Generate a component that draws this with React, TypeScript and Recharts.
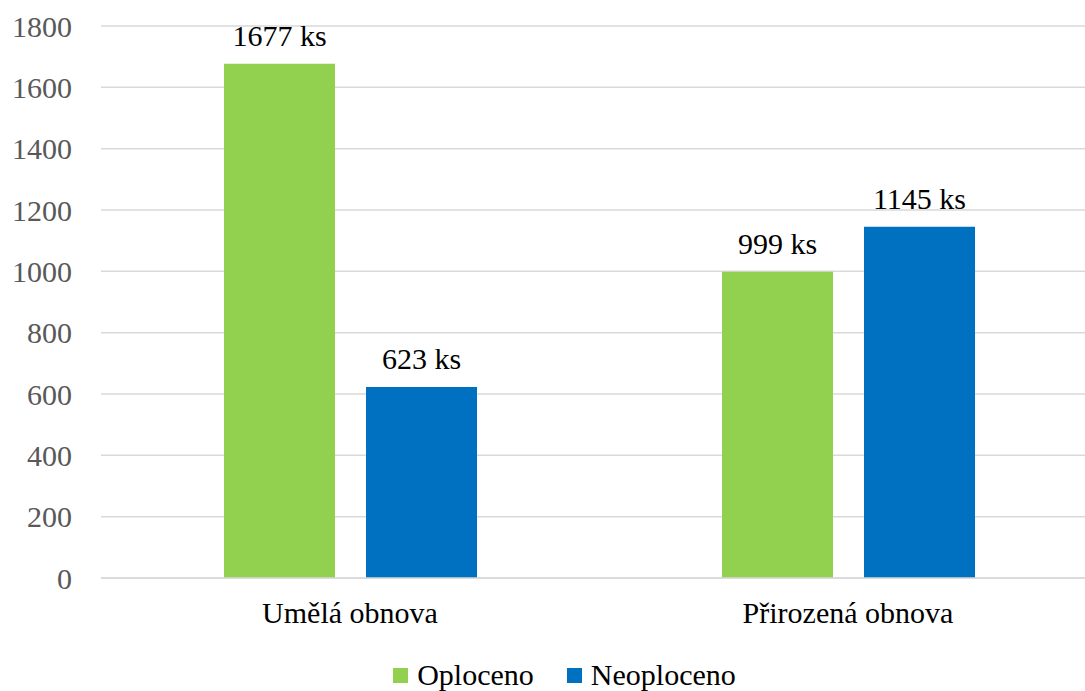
import React from 'react';
import { BarChart, Bar, XAxis, YAxis, CartesianGrid, Legend, LabelList } from 'recharts';

const categories = ['Umělá obnova', 'Přirozená obnova'];
const oploceno = [1677, 999];
const neoploceno = [623, 1145];
const yTicks = [0, 200, 400, 600, 800, 1000, 1200, 1400, 1600, 1800];
const seriesNames = ['Oploceno', 'Neoploceno'];
const seriesColors = ['#92d050', '#0070c0'];

const data = categories.map((c, i) => ({ name: c, a: oploceno[i], b: neoploceno[i] }));

const FONT = "'Liberation Serif', Tinos, 'Noto Serif', 'Times New Roman', Times, FreeSerif, 'Nimbus Roman', 'DejaVu Serif', serif";

const LegendContent = () => (
  <div style={{ display: 'flex', justifyContent: 'center', alignItems: 'center', height: 36, fontFamily: FONT, fontSize: 30, lineHeight: '36px', color: '#000' }}>
    {seriesNames.map((n, i) => (
      <div key={n} style={{ display: 'flex', alignItems: 'center', marginLeft: i === 0 ? 0 : 33 }}>
        <span style={{ display: 'inline-block', width: 15, height: 15, background: seriesColors[i], marginRight: 9 }} />
        <span>{n}</span>
      </div>
    ))}
  </div>
);

export default function App() {
  return (
    <div style={{ position: 'absolute', left: 0, top: 0, width: 1085, height: 691, overflow: 'hidden', background: '#fff', fontFamily: FONT }}>
      <BarChart width={1100} height={691} data={data} margin={{ top: 26, right: 3, left: 0, bottom: 0 }} barGap={31} barSize={111} style={{ fontFamily: FONT }}>
        <CartesianGrid vertical={false} stroke="#d9d9d9" strokeWidth={1.5} />
        <XAxis
          dataKey="name"
          height={77}
          axisLine={{ stroke: '#d9d9d9', strokeWidth: 1.5 }}
          tickLine={false}
          tickSize={0}
          tickMargin={24}
          tick={{ fontFamily: FONT, fontSize: 30, fill: '#000' }}
        />
        <YAxis
          width={101}
          domain={[0, 1800]}
          ticks={yTicks}
          interval={0}
          axisLine={false}
          tickLine={false}
          tickSize={0}
          tickMargin={29}
          tick={{ fontFamily: FONT, fontSize: 30, fill: '#595959' }}
        />
        <Legend verticalAlign="bottom" content={<LegendContent />} wrapperStyle={{ top: 657, left: 0, width: 1129, height: 36 }} />
        <Bar dataKey="a" name={seriesNames[0]} fill={seriesColors[0]} isAnimationActive={false}>
          <LabelList dataKey="a" position="top" offset={18} formatter={(v: number) => `${v} ks`} fontFamily={FONT} fontSize={30} fill="#000" />
        </Bar>
        <Bar dataKey="b" name={seriesNames[1]} fill={seriesColors[1]} isAnimationActive={false}>
          <LabelList dataKey="b" position="top" offset={18} formatter={(v: number) => `${v} ks`} fontFamily={FONT} fontSize={30} fill="#000" />
        </Bar>
      </BarChart>
    </div>
  );
}
